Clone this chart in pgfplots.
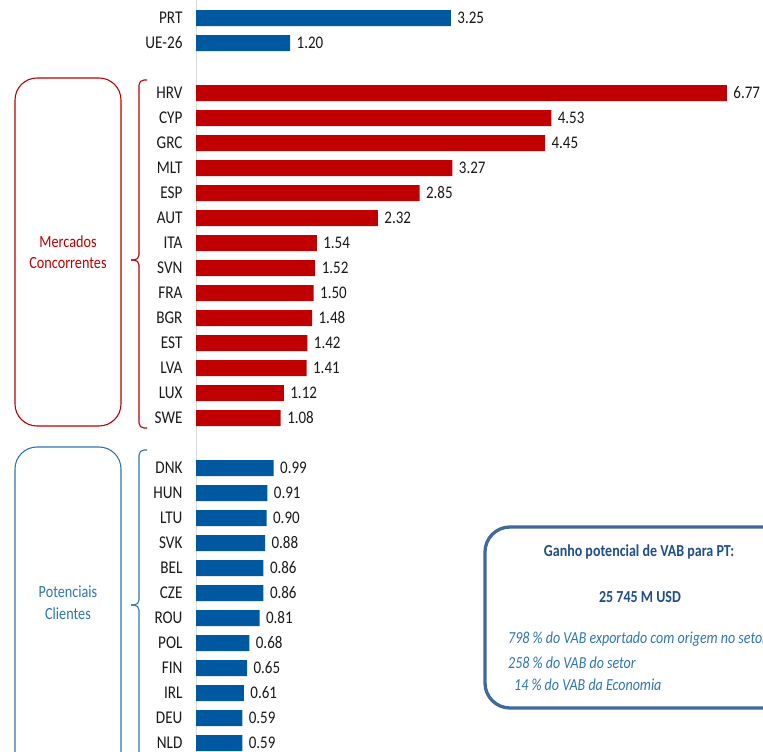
\documentclass[border=0pt]{standalone}
\usepackage{pgfplots}
\pgfplotsset{compat=1.18}
\usepackage{pgfplotstable}
\usepackage{fontspec}
\setmainfont{Carlito}

\definecolor{barblue}{RGB}{0,88,160}
\definecolor{barred}{RGB}{192,0,0}
\definecolor{boxblue}{RGB}{65,105,155}
\definecolor{txtblue}{RGB}{46,117,182}
\definecolor{navy}{RGB}{31,78,140}

% idx = row from the top (gaps at 2 and 17)
\pgfplotstableread{
idx val
0 3.25
1 1.20
18 0.99
19 0.91
20 0.90
21 0.88
22 0.86
23 0.86
24 0.81
25 0.68
26 0.65
27 0.61
28 0.59
29 0.59
}\bluedata

\pgfplotstableread{
idx val
3 6.77
4 4.53
5 4.45
6 3.27
7 2.85
8 2.32
9 1.54
10 1.52
11 1.50
12 1.48
13 1.42
14 1.41
15 1.12
16 1.08
}\reddata

\begin{document}
\begin{tikzpicture}
\useasboundingbox (0,0) rectangle (763bp,752bp);
\clip (0,0) rectangle (763bp,752bp);
\begin{axis}[
    scale only axis,
    width=763bp, height=752bp,
    xmin=-2.5, xmax=7.23,
    ymin=-0.72, ymax=29.36,
    y dir=reverse,
    axis line style={draw=none},
    major tick length=0pt,
    xtick=\empty,
    extra x ticks={0},
    extra x tick labels={},
    extra x tick style={grid=major, major grid style={black!15, line width=1bp}},
    ytick={0,1,3,4,5,6,7,8,9,10,11,12,13,14,15,16,18,19,20,21,22,23,24,25,26,27,28,29},
    yticklabels={PRT,UE-26,HRV,CYP,GRC,MLT,ESP,AUT,ITA,SVN,FRA,BGR,EST,LVA,LUX,SWE,
                 DNK,HUN,LTU,SVK,BEL,CZE,ROU,POL,FIN,IRL,DEU,NLD},
    yticklabel style={xshift=186bp, font=\fontsize{15.2bp}{16bp}\selectfont, yscale=1.18, inner ysep=1bp, text=black!90},
    xbar, bar width=16bp, bar shift=0pt,
    nodes near coords,
    point meta=x,
    /pgf/number format/.cd, fixed, zerofill, precision=2, assume math mode=true,
    /pgfplots/.cd,
    every node near coord/.append style={font=\fontsize{15bp}{16bp}\selectfont, yscale=1.18, inner ysep=1bp, text=black!90, xshift=3bp},
]
\addplot[fill=barblue, draw=none] table[x=val, y=idx] {\bluedata};
\addplot[fill=barred, draw=none] table[x=val, y=idx] {\reddata};
\end{axis}

% group boxes and braces (canvas y = 752 - pixel row)
\draw[barred, line width=1.1bp, rounded corners=22bp] (15bp,326bp) rectangle (121bp,674bp);
\node[barred, align=center, font=\fontsize{14.2bp}{18bp}\selectfont, yscale=1.2] at (68bp,500bp) {Mercados\\Concorrentes};
\draw[barred, line width=1.1bp, rounded corners=5bp] (147bp,672bp) -- (139bp,672bp) -- (139bp,492bp) -- (131bp,492bp);
\draw[barred, line width=1.1bp, rounded corners=5bp] (131bp,492bp) -- (139bp,492bp) -- (139bp,324bp) -- (147bp,324bp);

\draw[txtblue, line width=1.1bp, rounded corners=22bp] (15bp,-40bp) rectangle (121bp,305bp);
\node[txtblue, align=center, font=\fontsize{14.2bp}{18bp}\selectfont, yscale=1.2] at (68bp,149bp) {Potenciais\\Clientes};
\draw[txtblue, line width=1.1bp, rounded corners=5bp] (147bp,302bp) -- (139bp,302bp) -- (139bp,147bp) -- (131bp,147bp);
\draw[txtblue, line width=1.1bp, rounded corners=5bp] (131bp,147bp) -- (139bp,147bp) -- (139bp,-8bp) -- (147bp,-8bp);

% summary box
\draw[boxblue, line width=3.3bp, rounded corners=25bp] (485bp,44bp) rectangle (820bp,225bp);
\node[navy, font=\bfseries\fontsize{14bp}{16bp}\selectfont, yscale=1.2] at (639bp,200bp) {Ganho potencial de VAB para PT:};
\node[navy, font=\bfseries\fontsize{14bp}{16bp}\selectfont, yscale=1.2] at (640bp,155bp) {25 745 M USD};
\node[txtblue, anchor=west, inner sep=0pt, font=\itshape\fontsize{14bp}{16bp}\selectfont, yscale=1.2] at (508bp,113bp) {798 \% do VAB exportado com origem no setor};
\node[txtblue, anchor=west, inner sep=0pt, font=\itshape\fontsize{14bp}{16bp}\selectfont, yscale=1.2] at (508bp,89bp) {258 \% do VAB do setor};
\node[txtblue, anchor=west, inner sep=0pt, font=\itshape\fontsize{14bp}{16bp}\selectfont, yscale=1.2] at (514bp,67bp) {14 \% do VAB da Economia};
\end{tikzpicture}
\end{document}
